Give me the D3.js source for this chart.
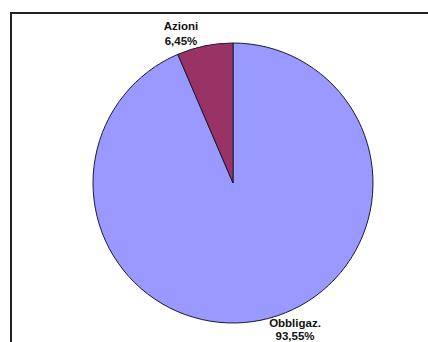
<!DOCTYPE html>
<html>
<head>
<meta charset="utf-8">
<script src="https://cdn.jsdelivr.net/npm/d3@7"></script>
<style>
  html, body { margin: 0; padding: 0; background: #ffffff; }
  svg { display: block; }
</style>
</head>
<body>
<svg id="chart" width="428" height="342"></svg>
<script>
const categories = ["Obbligaz.", "Azioni"];
const values = [93.55, 6.45];
const valueLabels = ["93,55%", "6,45%"];
const colors = ["#9999FF", "#993366"];

const svg = d3.select("#chart");
const cx = 233, cy = 183, R = 140;

// chart frame (extends beyond the visible window right and bottom)
svg.append("rect")
  .attr("x", 11).attr("y", 13)
  .attr("width", 500).attr("height", 500)
  .attr("fill", "#ffffff")
  .attr("stroke", "#222222")
  .attr("stroke-width", 2);

const data = categories.map((c, i) => ({ cat: c, value: values[i], label: valueLabels[i], color: colors[i] }));

const pie = d3.pie().sort(null).value(d => d.value).startAngle(0).endAngle(2 * Math.PI);
const arc = d3.arc().innerRadius(0).outerRadius(R);

const g = svg.append("g").attr("transform", `translate(${cx},${cy})`);

g.selectAll("path.slice")
  .data(pie(data))
  .join("path")
  .attr("class", "slice")
  .attr("d", arc)
  .attr("fill", d => d.data.color)
  .attr("stroke", "#1a1a33")
  .attr("stroke-width", 1);

// label placement offsets (layout only)
const labelPos = {
  "Azioni": { dx: -52, dy: -153, lh: 15 },
  "Obbligaz.": { dx: 62, dy: 144, lh: 13 }
};

const labels = g.selectAll("text.lbl")
  .data(pie(data))
  .join("text")
  .attr("class", "lbl")
  .attr("text-anchor", "middle")
  .attr("font-family", "'Liberation Sans', Arial, sans-serif")
  .attr("font-weight", "bold")
  .attr("font-size", "11.5px")
  .attr("fill", "#111111")
  .attr("transform", d => {
    const p = labelPos[d.data.cat];
    return `translate(${p.dx},${p.dy})`;
  });

labels.append("tspan").attr("x", 0).attr("dy", 0).text(d => d.data.cat);
labels.append("tspan").attr("x", 0).attr("dy", d => labelPos[d.data.cat].lh).text(d => d.data.label);
</script>
</body>
</html>
